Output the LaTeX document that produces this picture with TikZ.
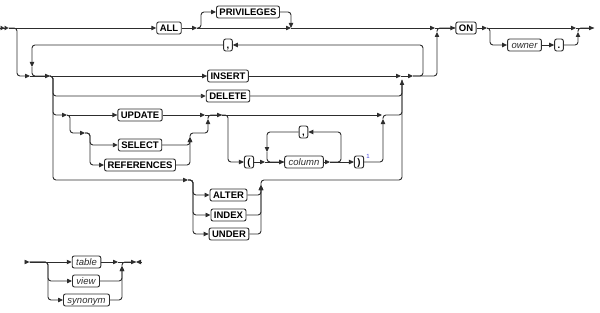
\documentclass[tikz,border=0pt]{standalone}
\usepackage{fontspec}
\setsansfont{Liberation Sans}
\usetikzlibrary{arrows.meta}
\definecolor{railgray}{RGB}{45,45,45}
\definecolor{noteblue}{RGB}{70,70,220}
\tikzset{
  rail/.style={draw=railgray, line width=0.9pt, rounded corners=3pt},
  railarr/.style={rail, -{Triangle[length=5pt,width=4.4pt]}},
  kwbox/.style={draw=railgray, fill=white, line width=0.9pt, rounded corners=2pt,
    inner xsep=3pt, inner ysep=2.6pt, text height=6.8pt, text depth=0pt,
    font=\sffamily\bfseries\fontsize{9.5}{11}\selectfont},
  varbox/.style={kwbox, inner xsep=4pt, text=railgray,
    font=\sffamily\itshape\fontsize{9.5}{11}\selectfont}
}
\begin{document}
\begin{tikzpicture}[x=1pt, y=-1pt]
\useasboundingbox (0,0) rectangle (600,313);
\node[kwbox] (all) at (169,28) {ALL};
\node[kwbox] (priv) at (248,12) {PRIVILEGES};
\node[kwbox] (on) at (466,28) {ON};
\node[varbox] (owner) at (524.5,45) {owner};
\node[kwbox] (dot) at (559,45) {.};
\node[kwbox] (comma) at (228,45) {,};
\node[kwbox] (ins) at (228,76) {INSERT};
\node[kwbox] (del) at (228,96) {DELETE};
\node[kwbox] (upd) at (140,115) {UPDATE};
\node[kwbox] (sel) at (140,145) {SELECT};
\node[kwbox] (ref) at (140,165) {REFERENCES};
\node[kwbox] (lp) at (249,162) {(};
\node[varbox] (col) at (304,162) {column};
\node[kwbox] (comma2) at (303.5,132) {,};
\node[kwbox] (rp) at (359,162) {)};
\node[font=\sffamily\fontsize{6}{7}\selectfont, text=noteblue, inner sep=0pt] (note) at (368,156) {1};
\node[kwbox] (alt) at (228.5,195) {ALTER};
\node[kwbox] (idx) at (228.5,215) {INDEX};
\node[kwbox] (und) at (229,234) {UNDER};
\node[varbox] (tab) at (86.5,262) {table};
\node[varbox] (view) at (86,281) {view};
\node[varbox] (syn) at (86.5,300) {synonym};

\coordinate (st) at (0,28);
\coordinate (st2) at (8.5,28);
\coordinate (k1) at (30,76);
\coordinate (k2) at (50,76);
\coordinate (k3) at (32,67);
\coordinate (a1) at (197,28);
\coordinate (a2) at (291,28);
\coordinate (q1) at (435,28);
\coordinate (q2) at (437,32);
\coordinate (o1) at (487,28);
\coordinate (o2) at (576,28);
\coordinate (o3) at (578,32);
\coordinate (en) at (594,28);
\coordinate (u1) at (67,115);
\coordinate (s1) at (85,133);
\coordinate (s2) at (190,137);
\coordinate (u2) at (208,119);
\coordinate (u3) at (205,115);
\coordinate (u4) at (222,115);
\coordinate (u5) at (382,115);
\coordinate (u6) at (383,119);
\coordinate (c1) at (265,162);
\coordinate (c2) at (330,162);
\coordinate (c3) at (267,152);
\coordinate (a0) at (188,180);
\coordinate (a3) at (261,185);
\coordinate (r1) at (401,76);
\coordinate (r2) at (402,80);
\coordinate (r3) at (413,76);
\coordinate (b0) at (25,262);
\coordinate (b1) at (29.5,262);
\coordinate (b2) at (118,262);
\coordinate (b3) at (122,266);
\coordinate (b4) at (136,262);
\coordinate (b5) at (141,262);

\draw[rail, -{Triangle[length=4pt,width=4.4pt]Triangle[length=4pt,width=4.4pt]}] (st) -- (st2);
\draw[railarr] (st2) -- (all.west);
\draw[railarr] (all.east) -- (a1);
\draw[railarr] (a1) -- ++(4,0) |- (priv.west);
\draw[railarr] (priv.east) -| (a2);
\draw[railarr] (a1) -- (a2);
\draw[railarr] (a2) -- (q1);
\draw[railarr] (q1) -- (on.west);
\draw[rail] (q2) |- (on.west);
\draw[railarr] (on.east) -- (o1);
\draw[railarr] (o1) -- (o2);
\draw[railarr] (o1) -- ++(3,0) |- (owner.west);
\draw[railarr] (owner.east) -- (dot.west);
\draw[railarr] (dot.east) -| (o3);
\draw[rail] (o3) |- (en);
\draw[railarr] (o2) -- (en);

\draw[railarr] (st2) -- ++(8.5,0) |- (k1);
\draw[railarr] (k1) -- (k2);
\draw[railarr] (k2) -- (ins.west);
\draw[railarr] (k2) -- ++(3,0) |- (del.west);
\draw[railarr] (k2) -- ++(3,0) |- (u1);
\draw[railarr] (k2) -- ++(3,0) |- (a0);
\draw[railarr] (r3) -- ++(10,0) |- (comma.east);
\draw[railarr] (comma.west) -| (k3);
\draw[rail] (k3) |- (k2);

\draw[railarr] (u1) -- (upd.west);
\draw[railarr] (u1) -- ++(3,0) |- (s1);
\foreach \b in {sel,ref}
  \draw[railarr] (s1) -- ++(5,0) |- (\b.west);
\foreach \b in {sel,ref}
  \draw[railarr] (\b.east) -| (s2);
\draw[railarr] (s2) |- (u2 |- s1) -- (u2);
\draw[railarr] (upd.east) -- (u3);
\draw[railarr] (u3) -- (u4);
\draw[rail] (u2) |- (u4);
\draw[railarr] (u4) -- (u5);
\draw[railarr] (u4) -- ++(6,0) |- (lp.west);
\draw[railarr] (lp.east) -- (c1);
\draw[railarr] (c1) -- (col.west);
\draw[railarr] (col.east) -- (c2);
\draw[railarr] (c2) -- (rp.west);
\draw[railarr] (c2) -- ++(11,0) |- (comma2.east);
\draw[railarr] (comma2.west) -| (c3);
\draw[rail] (c3) |- (col.west);
\draw[railarr] (rp.east) -| (u6);
\draw[rail] (u6) |- (r2 |- u5) -- (r2);

\foreach \b in {alt,idx,und}
  \draw[railarr] (a0) -- ++(5,0) |- (\b.west);
\foreach \b in {alt,idx,und}
  \draw[railarr] (\b.east) -| (a3);
\draw[rail] (a3) |- (r2 |- a0) -- (r2);

\draw[railarr] (ins.east) -- (r1);
\draw[railarr] (del.east) -| (r2);
\draw[railarr] (r1) -- (r3);
\draw[railarr] (r3) -| (q2);

\draw[railarr] (b0) -- (b1);
\draw[railarr] (b1) -- (tab.west);
\foreach \b in {view,syn}
  \draw[railarr] (b1) -- ++(18.5,0) |- (\b.west);
\draw[railarr] (tab.east) -- (b2);
\foreach \b in {view,syn}
  \draw[railarr] (\b.east) -| (b3);
\draw[rail] (b3) |- (b4);
\draw[railarr] (b2) -- (b4);
\draw[railarr] (b5) -- (b4);
\end{tikzpicture}
\end{document}
